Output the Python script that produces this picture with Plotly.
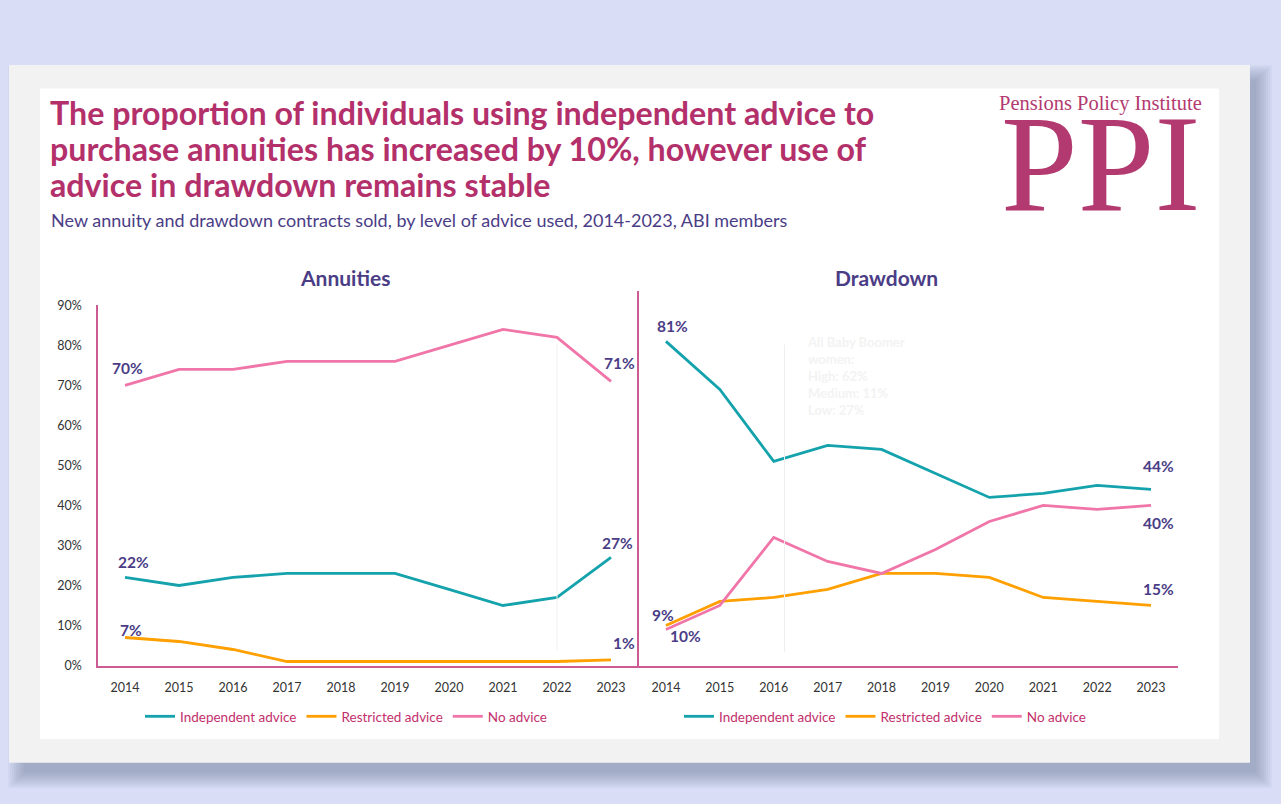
import plotly.graph_objects as go

# ---- data -------------------------------------------------------------
years = [2014, 2015, 2016, 2017, 2018, 2019, 2020, 2021, 2022, 2023]
series_names = ["Independent advice", "Restricted advice", "No advice"]

annuity_independent = [22, 20, 22, 23, 23, 23, 19, 15, 17, 27]
annuity_restricted = [7, 6, 4, 1, 1, 1, 1, 1, 1, 1.4]
annuity_none = [70, 74, 74, 76, 76, 76, 80, 84, 82, 71]

drawdown_independent = [81, 69, 51, 55, 54, 48, 42, 43, 45, 44]
drawdown_restricted = [10, 16, 17, 19, 23, 23, 22, 17, 16, 15]
drawdown_none = [9, 15, 32, 26, 23, 29, 36, 40, 39, 40]

y_ticks = [0, 10, 20, 30, 40, 50, 60, 70, 80, 90]
y_tick_labels = [f"{t}%" for t in y_ticks]

title_lines = [
    "The proportion of individuals using independent advice to",
    "purchase annuities has increased by 10%, however use of",
    "advice in drawdown remains stable",
]
subtitle = "New annuity and drawdown contracts sold, by level of advice used, 2014-2023, ABI members"
note_lines = ["All Baby Boomer", "women:", "High: 62%", "Medium: 11%", "Low: 27%"]

# ---- style ------------------------------------------------------------
W, H = 1281, 804
TEAL = "#14A2AC"
ORANGE = "#FFA000"
PINK = "#F076A9"
AXIS = "#CC5A93"
PURPLE = "#4A3D86"
MAGENTA = "#B3306B"
LOGO = "#B33A70"
FONT = "Lato"
colors = [TEAL, ORANGE, PINK]


def px(x):
    return x / W


def py(y):
    return 1 - y / H


fig = go.Figure()

panels = [
    ("x", "y", "legend", [annuity_independent, annuity_restricted, annuity_none]),
    ("x2", "y2", "legend2", [drawdown_independent, drawdown_restricted, drawdown_none]),
]
for xa, ya, leg, values in panels:
    for name, col, vals in zip(series_names, colors, values):
        fig.add_trace(go.Scatter(
            x=years, y=vals, name=name, mode="lines",
            line=dict(color=col, width=2.8),
            xaxis=xa, yaxis=ya, legend=leg, hoverinfo="skip",
        ))

# ---- backdrop: page, grey panel with soft shadow, white card -----------
shapes = []
for k in range(9):
    g = 2 * k
    shapes.append(dict(type="rect", xref="paper", yref="paper", layer="below",
                       x0=px(24 - g), x1=px(1256 + g),
                       y0=py(779 + g), y1=py(74 - g),
                       fillcolor="#6E7399", opacity=0.065, line_width=0))
shapes.append(dict(type="rect", xref="paper", yref="paper", layer="below",
                   x0=px(9), x1=px(1250), y0=py(769), y1=py(58),
                   fillcolor="#F2F2F2", line_width=0))
shapes.append(dict(type="rect", xref="paper", yref="paper", layer="below",
                   x0=px(40), x1=px(1219), y0=py(745), y1=py(82),
                   fillcolor="#FFFFFF", line_width=0))
# faint leader lines
shapes.append(dict(type="line", xref="x", yref="paper", x0=2022, x1=2022,
                   y0=py(655), y1=py(343), line=dict(color="#EEF2F2", width=1)))
shapes.append(dict(type="line", xref="x2", yref="paper", x0=2016.2, x1=2016.2,
                   y0=py(656), y1=py(343), line=dict(color="#EEEEEE", width=1)))

annotations = []
for i, line in enumerate(title_lines):
    annotations.append(dict(
        xref="paper", yref="paper", x=px(48), y=py(106 + 37 * i),
        xanchor="left", yanchor="middle", text=f"<b>{line}</b>", showarrow=False,
        font=dict(family=FONT, size=32.2, color=MAGENTA)))
annotations.append(dict(
    xref="paper", yref="paper", x=px(49), y=py(216), xanchor="left", yanchor="middle",
    text=subtitle, showarrow=False, font=dict(family=FONT, size=18, color=PURPLE)))

# logo
annotations.append(dict(
    xref="paper", yref="paper", x=px(1100), y=py(97), xanchor="center", yanchor="middle",
    text="Pensions Policy Institute", showarrow=False,
    font=dict(family="Liberation Serif", size=20.5, color=LOGO)))
annotations.append(dict(
    xref="paper", yref="paper", x=px(1100), y=py(158), xanchor="center", yanchor="middle",
    text="PPI", showarrow=False,
    font=dict(family="Liberation Serif", size=138, color=LOGO)))

# panel titles
annotations.append(dict(xref="paper", yref="paper", x=px(345), y=py(275),
                        xanchor="center", yanchor="middle", text="<b>Annuities</b>",
                        showarrow=False, font=dict(family=FONT, size=21, color=PURPLE)))
annotations.append(dict(xref="paper", yref="paper", x=px(886), y=py(275),
                        xanchor="center", yanchor="middle", text="<b>Drawdown</b>",
                        showarrow=False, font=dict(family=FONT, size=21, color=PURPLE)))

# faint note
annotations.append(dict(xref="paper", yref="paper", x=px(805), y=py(330),
                        xanchor="left", yanchor="top",
                        text="<b>" + "<br>".join(note_lines) + "</b>", align="left",
                        showarrow=False, font=dict(family=FONT, size=13, color="#F3F3F3")))


def value_label(xref, yref, year, vals, dx, dy):
    v = vals[years.index(year)]
    return dict(xref=xref, yref=yref, x=year, y=v, text=f"<b>{v:.0f}%</b>",
                showarrow=False, xshift=dx, yshift=dy,
                font=dict(family=FONT, size=15.5, color=PURPLE))


annotations += [
    value_label("x", "y", 2014, annuity_none, 2, 17),
    value_label("x", "y", 2014, annuity_independent, 8, 15),
    value_label("x", "y", 2014, annuity_restricted, 6, 7),
    value_label("x", "y", 2023, annuity_none, 8, 18),
    value_label("x", "y", 2023, annuity_independent, 6, 14),
    value_label("x", "y", 2023, annuity_restricted, 13, 17),
    value_label("x2", "y2", 2014, drawdown_independent, 7, 15),
    value_label("x2", "y2", 2014, drawdown_none, -3, 14),
    value_label("x2", "y2", 2014, drawdown_restricted, 20, -11),
    value_label("x2", "y2", 2023, drawdown_independent, 7, 23),
    value_label("x2", "y2", 2023, drawdown_none, 7, -18),
    value_label("x2", "y2", 2023, drawdown_restricted, 7, 16),
]

tick_font = dict(family=FONT, size=12.5, color="#333333")
px_per_pct = (670 - 303) / 90

xaxis_common = dict(
    tickmode="array", tickvals=years, ticktext=[str(y) for y in years],
    range=[2013.5, 2023.5], showgrid=False, zeroline=False, showline=True,
    linecolor=AXIS, linewidth=1.5, ticks="", tickfont=tick_font,
    ticklabelstandoff=10, fixedrange=True,
)

legend_common = dict(
    orientation="h", yanchor="middle", xanchor="left", bgcolor="rgba(0,0,0,0)",
    font=dict(family=FONT, size=13.5, color="#C2306C"), itemclick=False,
    itemdoubleclick=False, tracegroupgap=0,
)

fig.update_layout(
    width=W, height=H,
    margin=dict(l=0, r=0, t=0, b=0),
    paper_bgcolor="#D9DEF6",
    plot_bgcolor="rgba(0,0,0,0)",
    shapes=shapes,
    annotations=annotations,
    xaxis=dict(domain=[px(98), px(638)], anchor="y", **xaxis_common),
    yaxis=dict(domain=[py(670), py(303)], anchor="x", range=[0, 90],
               tickmode="array", tickvals=y_ticks, ticktext=y_tick_labels,
               showgrid=False, zeroline=False, showline=True, linecolor=AXIS,
               linewidth=1.5, tickfont=tick_font, ticklabelstandoff=12,
               fixedrange=True),
    xaxis2=dict(domain=[px(639), px(1178)], anchor="y2", **xaxis_common),
    yaxis2=dict(domain=[py(670), py(288)], anchor="x2",
                range=[0, (670 - 288) / px_per_pct],
                showticklabels=False, showgrid=False, zeroline=False,
                showline=True, linecolor=AXIS, linewidth=1.5, fixedrange=True),
    legend=dict(x=px(140), y=py(722), **legend_common),
    legend2=dict(x=px(679), y=py(722), **legend_common),
    showlegend=True,
)

fig.write_html("out.html")
